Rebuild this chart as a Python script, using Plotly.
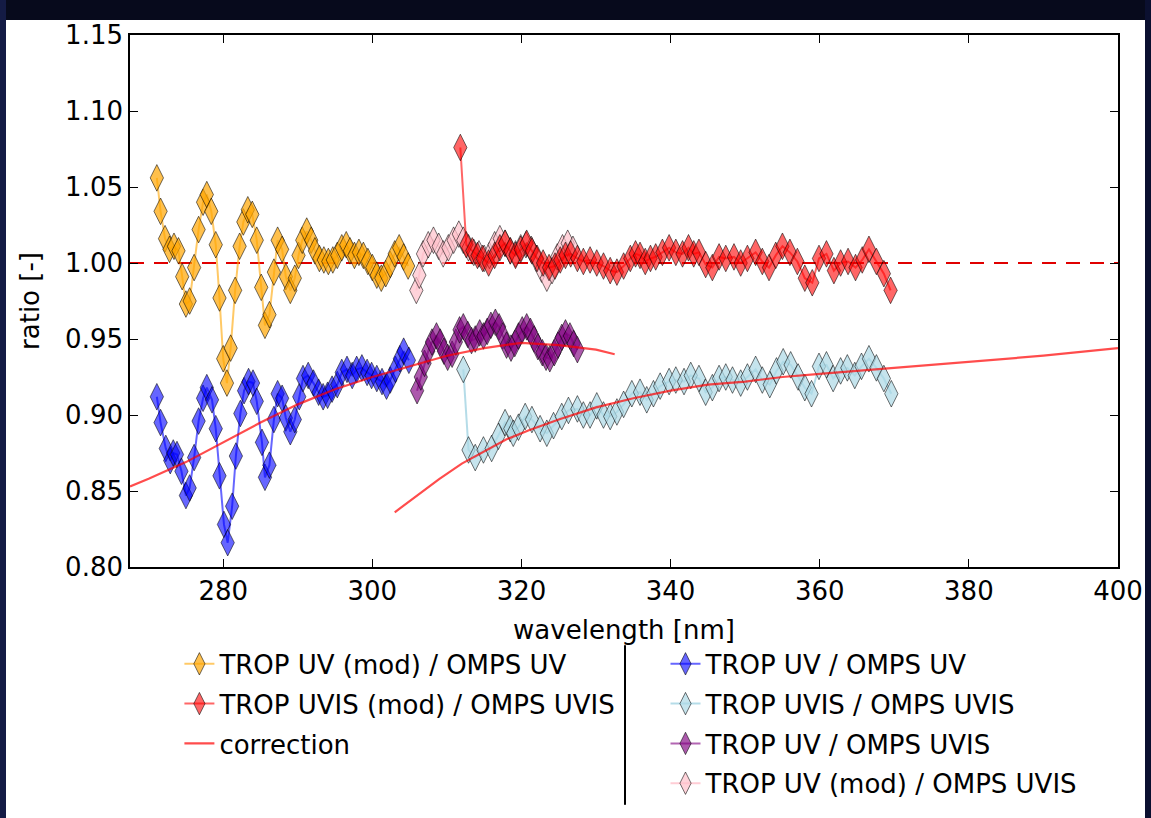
import plotly.graph_objects as go

# ---------------- data ----------------
wl_orange = [271.1, 271.6, 272.2, 272.8, 273.4, 274.0, 274.5, 275.0, 275.5, 276.1, 276.7, 277.3, 277.8,
             278.4, 279.0, 279.5, 280.0, 280.5, 281.0, 281.6, 282.2, 282.7, 283.3, 283.9, 284.5, 285.1,
             285.6, 286.2, 286.8, 287.3, 287.9, 288.4, 289.0, 289.6, 290.1, 290.6, 291.2, 291.8, 292.3,
             292.9, 293.5, 294.1, 294.7, 295.3, 295.9, 296.5, 297.0, 297.6, 298.2, 298.8, 299.4, 300.0,
             300.6, 301.2, 301.8, 302.4, 303.0, 303.6, 304.2, 304.8]
val_orange = [1.056, 1.034, 1.016, 1.009, 1.011, 1.008, 0.991, 0.973, 0.975, 0.997, 1.022, 1.040, 1.045,
              1.034, 1.012, 0.977, 0.937, 0.921, 0.944, 0.982, 1.011, 1.027, 1.035, 1.032, 1.015, 0.984,
              0.959, 0.966, 0.994, 1.015, 1.009, 0.991, 0.982, 0.990, 1.005, 1.015, 1.021, 1.015, 1.008,
              1.003, 1.002, 1.001, 1.002, 1.005, 1.010, 1.012, 1.008, 1.005, 1.007, 1.005, 1.001, 0.997,
              0.992, 0.990, 0.993, 0.999, 1.006, 1.010, 1.004, 0.998]

wl_blue = [271.1, 271.6, 272.3, 272.9, 273.3, 273.8, 274.4, 275.0, 275.5, 276.1, 276.7, 277.3, 277.8,
           278.5, 279.0, 279.5, 280.1, 280.6, 281.2, 281.7, 282.3, 282.8, 283.4, 284.0, 284.5, 285.2,
           285.6, 286.2, 286.8, 287.3, 287.9, 288.4, 289.0, 289.6, 290.2, 290.7, 291.4, 292.1, 292.8,
           293.4, 294.0, 294.6, 295.3, 295.9, 296.6, 297.3, 297.9, 298.6, 299.3, 299.9, 300.6, 301.3,
           301.9, 302.4, 303.1, 303.7, 304.2, 304.9]
val_blue = [0.912, 0.895, 0.878, 0.870, 0.875, 0.874, 0.863, 0.847, 0.852, 0.872, 0.896, 0.911, 0.918,
            0.910, 0.891, 0.860, 0.828, 0.816, 0.840, 0.873, 0.901, 0.916, 0.922, 0.921, 0.909, 0.882,
            0.859, 0.867, 0.897, 0.914, 0.911, 0.898, 0.889, 0.897, 0.912, 0.924, 0.926, 0.921, 0.915,
            0.912, 0.913, 0.917, 0.920, 0.928, 0.930, 0.926, 0.930, 0.931, 0.928, 0.926, 0.924, 0.922,
            0.919, 0.923, 0.930, 0.937, 0.942, 0.936]

wl_purple = [306.0, 306.5, 307.0, 307.5, 308.0, 308.6, 309.1, 309.6, 310.1, 310.7, 311.2, 311.7, 312.2,
             312.8, 313.3, 313.8, 314.4, 314.9, 315.4, 315.9, 316.5, 317.0, 317.5, 318.0, 318.6, 319.1,
             319.6, 320.1, 320.7, 321.2, 321.7, 322.2, 322.8, 323.3, 323.8, 324.4, 324.9, 325.4, 325.9,
             326.5, 327.0, 327.5]
val_purple = [0.916, 0.925, 0.934, 0.942, 0.948, 0.952, 0.948, 0.942, 0.938, 0.940, 0.948, 0.956, 0.958,
              0.953, 0.949, 0.950, 0.954, 0.952, 0.955, 0.959, 0.961, 0.958, 0.952, 0.946, 0.944, 0.947,
              0.952, 0.956, 0.958, 0.955, 0.950, 0.945, 0.941, 0.938, 0.937, 0.941, 0.946, 0.951, 0.954,
              0.952, 0.947, 0.943]

wl_pink = [305.9, 306.3, 306.8, 307.5, 308.2, 308.9, 309.5, 310.2, 310.9, 311.6, 312.2, 312.9, 313.6,
           314.3, 315.0, 315.7, 316.4, 317.1, 317.8, 318.5, 319.2, 319.9, 320.6, 321.3, 322.0, 322.7,
           323.4, 324.1, 324.8, 325.5, 326.2, 326.9]
val_pink = [0.982, 0.992, 1.006, 1.012, 1.015, 1.011, 1.006, 1.010, 1.015, 1.019, 1.015, 1.010, 1.007,
            1.006, 1.003, 1.005, 1.012, 1.016, 1.013, 1.008, 1.006, 1.010, 1.012, 1.009, 1.003, 0.996,
            0.990, 0.995, 1.004, 1.010, 1.013, 1.009]

wl_red = [311.8, 312.6, 313.4, 314.1, 314.8, 315.6, 316.4, 317.1, 317.8, 318.5, 319.2, 319.9, 320.7,
          321.4, 322.1, 322.9, 323.7, 324.5, 325.2, 325.9, 326.6, 327.5, 328.3, 329.2, 330.1, 331.0,
          331.9, 332.8, 333.7, 334.6, 335.3, 335.9, 336.6, 337.3, 338.0, 338.9, 339.8, 340.7, 341.6,
          342.4, 343.1, 343.8, 344.7, 345.6, 346.5, 347.4, 348.5, 349.4, 350.3, 351.4, 352.3, 353.2,
          354.1, 355.0, 356.0, 357.0, 358.0, 359.0, 359.9, 360.9, 361.9, 362.8, 363.8, 364.8, 365.7,
          366.6, 367.6, 368.6, 369.5]
val_red = [1.076, 1.012, 1.008, 1.005, 1.003, 1.000, 1.005, 1.010, 1.013, 1.008, 1.005, 1.009, 1.013,
           1.008, 1.003, 1.000, 0.997, 0.998, 1.002, 1.005, 1.006, 1.003, 1.001, 1.002, 1.000, 0.998,
           0.995, 0.994, 0.998, 1.003, 1.006, 1.005, 1.001, 1.003, 1.004, 1.007, 1.010, 1.007, 1.006,
           1.010, 1.006, 1.007, 0.999, 0.997, 1.004, 1.003, 1.004, 1.000, 1.003, 1.007, 1.001, 0.997,
           1.005, 1.011, 1.007, 1.001, 0.990, 0.987, 1.003, 1.006, 0.995, 1.000, 1.001, 0.997, 1.002,
           1.009, 1.001, 0.993, 0.982]

wl_lblue = [312.2, 312.9, 313.8, 314.9, 316.0, 316.9, 317.8, 318.5, 318.9, 319.6, 320.5, 321.4, 322.5,
            323.4, 324.3, 325.4, 326.3, 327.5, 328.3, 329.2, 330.1, 331.0, 331.9, 332.8, 333.7, 334.8,
            335.9, 336.8, 337.7, 338.6, 339.8, 340.7, 341.8, 342.7, 343.8, 344.7, 345.6, 346.5, 347.4,
            348.3, 349.4, 350.3, 351.4, 352.3, 353.3, 354.2, 355.1, 356.1, 357.1, 358.0, 358.9, 359.9,
            360.9, 361.8, 362.8, 363.7, 364.7, 365.6, 366.6, 367.6, 368.6, 369.6]
val_lblue = [0.930, 0.877, 0.872, 0.877, 0.878, 0.886, 0.895, 0.891, 0.888, 0.892, 0.899, 0.897, 0.891,
             0.888, 0.893, 0.899, 0.903, 0.904, 0.900, 0.900, 0.906, 0.900, 0.899, 0.902, 0.907, 0.914,
             0.915, 0.910, 0.914, 0.919, 0.922, 0.923, 0.922, 0.926, 0.924, 0.915, 0.918, 0.924, 0.925,
             0.923, 0.921, 0.925, 0.930, 0.923, 0.920, 0.929, 0.935, 0.933, 0.925, 0.918, 0.914, 0.932,
             0.933, 0.924, 0.929, 0.931, 0.926, 0.932, 0.937, 0.931, 0.924, 0.914]

wl_corr_uv = [267.5, 270, 275, 280, 285, 290, 295, 300, 305, 310, 315, 320, 325, 330, 332.5]
val_corr_uv = [0.853, 0.858, 0.869, 0.882, 0.895, 0.907, 0.917, 0.925, 0.932, 0.939, 0.944, 0.9475,
               0.946, 0.943, 0.940]

wl_corr_uvis = [303, 306, 309, 312, 315, 318, 321, 325, 330, 335, 340, 345, 350, 355, 360, 370, 380,
                390, 400]
val_corr_uvis = [0.836, 0.847, 0.858, 0.868, 0.876, 0.884, 0.890, 0.897, 0.905, 0.911, 0.916, 0.920,
                 0.922, 0.925, 0.927, 0.931, 0.935, 0.939, 0.944]

ref_x = [267.5, 400]
ref_y = [1.0, 1.0]

x_ticks = [280, 300, 320, 340, 360, 380, 400]
y_ticks = [0.80, 0.85, 0.90, 0.95, 1.00, 1.05, 1.10, 1.15]

# ---------------- figure ----------------
FONT = "DejaVu Sans"
FS = 26
EDGE = "rgba(0,0,0,0.55)"

fig = go.Figure()

fig.add_trace(go.Scatter(x=ref_x, y=ref_y, mode="lines", showlegend=False,
                         line=dict(color="#e00000", width=2.2, dash="14px,10px")))


def series(x, y, fill, line, name, legend, group):
    return go.Scatter(
        x=x, y=y, mode="lines+markers", name=name, legend=legend, legendgroup=group,
        line=dict(color=line, width=2),
        marker=dict(symbol="diamond-tall", size=19, color=fill, line=dict(color=EDGE, width=1)))


fig.add_trace(series(wl_blue, val_blue, "rgba(0,0,255,0.6)", "rgba(0,0,255,0.6)",
                     "TROP UV / OMPS UV", "legend2", "g4"))
fig.add_trace(series(wl_lblue, val_lblue, "rgba(173,216,230,0.7)", "rgba(173,216,230,0.9)",
                     "TROP UVIS / OMPS UVIS", "legend2", "g5"))
fig.add_trace(series(wl_purple, val_purple, "rgba(128,0,128,0.65)", "rgba(128,0,128,0.6)",
                     "TROP UV / OMPS UVIS", "legend2", "g6"))
fig.add_trace(series(wl_pink, val_pink, "rgba(255,192,203,0.7)", "rgba(255,192,203,0.8)",
                     "TROP UV (mod) / OMPS UVIS", "legend2", "g7"))
fig.add_trace(series(wl_orange, val_orange, "rgba(255,165,0,0.7)", "rgba(255,165,0,0.6)",
                     "TROP UV (mod) / OMPS UV", "legend", "g1"))
fig.add_trace(series(wl_red, val_red, "rgba(255,0,0,0.6)", "rgba(255,0,0,0.6)",
                     "TROP UVIS (mod) / OMPS UVIS", "legend", "g2"))
fig.add_trace(go.Scatter(x=wl_corr_uv, y=val_corr_uv, mode="lines", name="correction",
                         legend="legend", legendgroup="g3",
                         line=dict(color="rgba(255,0,0,0.7)", width=2.2)))
fig.add_trace(go.Scatter(x=wl_corr_uvis, y=val_corr_uvis, mode="lines", showlegend=False,
                         line=dict(color="rgba(255,0,0,0.7)", width=2.2)))

axis_common = dict(showline=True, linecolor="black", linewidth=1.6, mirror="allticks",
                   ticks="inside", ticklen=8, tickwidth=1.2, tickcolor="black",
                   showgrid=False, zeroline=False, automargin=False,
                   tickfont=dict(family=FONT, size=FS, color="black"))

fig.update_layout(
    width=1151, height=818,
    margin=dict(l=130, r=33, t=35, b=251, autoexpand=False),
    paper_bgcolor="white", plot_bgcolor="white",
    font=dict(family=FONT, size=FS, color="black"),
    xaxis=dict(range=[267.5, 400], tickvals=x_ticks,
               title=dict(text="wavelength [nm]", font=dict(family=FONT, size=FS), standoff=16),
               **axis_common),
    yaxis=dict(range=[0.80, 1.15], tickvals=y_ticks, tickformat=".2f",
               title=dict(text="ratio [-]", font=dict(family=FONT, size=FS), standoff=18),
               **axis_common),
    legend=dict(x=0.05, y=-0.138, xanchor="left", yanchor="top", bgcolor="rgba(0,0,0,0)",
                font=dict(family=FONT, size=FS), traceorder="grouped", tracegroupgap=3),
    legend2=dict(x=0.542, y=-0.138, xanchor="left", yanchor="top", bgcolor="rgba(0,0,0,0)",
                 font=dict(family=FONT, size=FS), traceorder="grouped", tracegroupgap=3),
    showlegend=True,
)

# separator between legend columns
fig.add_shape(type="line", xref="paper", yref="paper", x0=0.501, x1=0.501, y0=-0.147, y1=-0.447,
              line=dict(color="black", width=2))

# dark frame strips of the original screenshot
px = lambda v: (v - 130) / 988
py = lambda v: (567 - v) / 532
fig.add_shape(type="rect", xref="paper", yref="paper", layer="below",
              x0=px(0), x1=px(1151), y0=py(0), y1=py(20), fillcolor="#070a1c", line=dict(width=0))
fig.add_shape(type="rect", xref="paper", yref="paper", layer="below",
              x0=px(0), x1=px(6), y0=py(0), y1=py(818), fillcolor="#141b45", line=dict(width=0))
fig.add_shape(type="rect", xref="paper", yref="paper", layer="below",
              x0=px(1145), x1=px(1151), y0=py(0), y1=py(818), fillcolor="#0b1030", line=dict(width=0))

fig.write_html("out.html")
